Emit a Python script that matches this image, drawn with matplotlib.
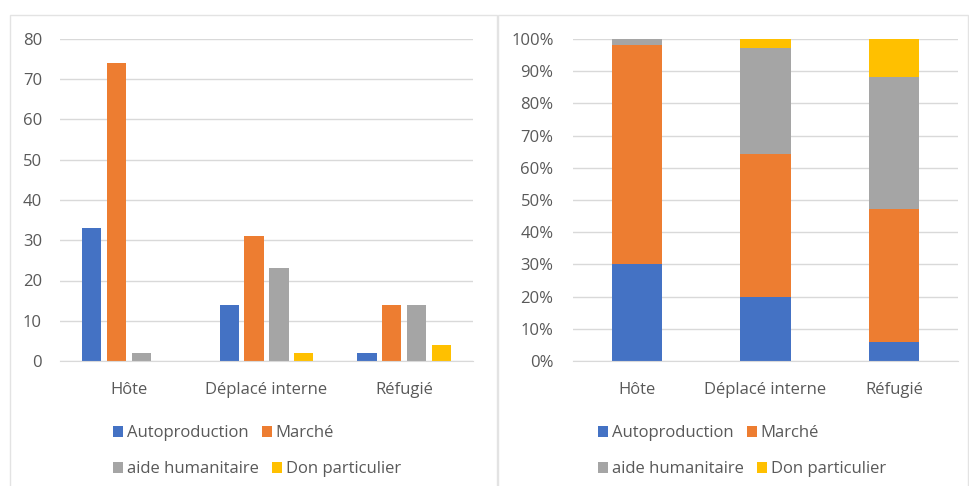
import numpy as np
import matplotlib.pyplot as plt
from matplotlib.ticker import PercentFormatter
from matplotlib.patches import Rectangle

plt.rcParams['font.family'] = ['Open Sans', 'DejaVu Sans']
plt.rcParams['font.size'] = 12

# data
categories = ['Hôte', 'Déplacé interne', 'Réfugié']
series_names = ['Autoproduction', 'Marché', 'aide humanitaire', 'Don particulier']
autoproduction = [33, 14, 2]
marche = [74, 31, 14]
aide_humanitaire = [2, 23, 14]
don_particulier = [0, 2, 4]

colors = ['#4472C4', '#ED7D31', '#A5A5A5', '#FFC000']
text_col = '#595959'
grid_col = '#d9d9d9'

series = np.array([autoproduction, marche, aide_humanitaire, don_particulier], dtype=float)
shares = series / series.sum(axis=0)

fig = plt.figure(figsize=(9.7, 4.86), dpi=100)

# panel frames
fig.patches.append(Rectangle((10 / 970, -0.01), 487 / 970, 1 - 15 / 486 + 0.01,
                             transform=fig.transFigure, fill=False, edgecolor='#e3e3e3', lw=1))
fig.patches.append(Rectangle((498 / 970, -0.01), 470 / 970, 1 - 15 / 486 + 0.01,
                             transform=fig.transFigure, fill=False, edgecolor='#e3e3e3', lw=1))

ax1 = fig.add_axes([60 / 970, 1 - 361 / 486, 413 / 970, 322 / 486])
ax2 = fig.add_axes([573 / 970, 1 - 361 / 486, 385 / 970, 322 / 486])

x = np.arange(len(categories))

# grouped bars
step = 0.18
width = 0.14
for i in range(4):
    ax1.bar(x + (i - 1.5) * step, series[i], width, color=colors[i], label=series_names[i])
ax1.set_ylim(0, 80)
ax1.set_yticks(range(0, 81, 10))

# 100% stacked bars
bottom = np.zeros(len(categories))
for i in range(4):
    ax2.bar(x, shares[i], 0.39, bottom=bottom, color=colors[i], label=series_names[i])
    bottom += shares[i]
ax2.set_ylim(0, 1)
ax2.set_yticks(np.linspace(0, 1, 11))
ax2.yaxis.set_major_formatter(PercentFormatter(xmax=1, decimals=0))

for ax, ypad in ((ax1, 13), (ax2, 14)):
    ax.set_xlim(-0.5, 2.5)
    ax.set_xticks(x)
    ax.set_xticklabels(categories)
    ax.set_axisbelow(True)
    ax.yaxis.grid(True, color=grid_col, lw=1)
    for s in ('top', 'right', 'left'):
        ax.spines[s].set_visible(False)
    ax.spines['bottom'].set_color(grid_col)
    ax.tick_params(axis='both', length=0, colors=text_col, labelsize=12)
    ax.tick_params(axis='y', pad=ypad)
    ax.tick_params(axis='x', pad=15)

# legends below each panel, one legend per row so entries flow like the original
for ax, lx in ((ax1, 105 / 970), (ax2, 590 / 970)):
    h, l = ax.get_legend_handles_labels()
    for row, ytop in (([0, 1], 417), ([2, 3], 453)):
        fig.legend([h[k] for k in row], [l[k] for k in row], ncol=2,
                   loc='upper left', bbox_to_anchor=(lx, 1 - ytop / 486),
                   frameon=False, borderpad=0, handlelength=0.6, handleheight=0.6,
                   handletextpad=0.25, columnspacing=0.75,
                   labelcolor=text_col, fontsize=12)

fig.savefig('out.png', dpi=100, facecolor='white')
